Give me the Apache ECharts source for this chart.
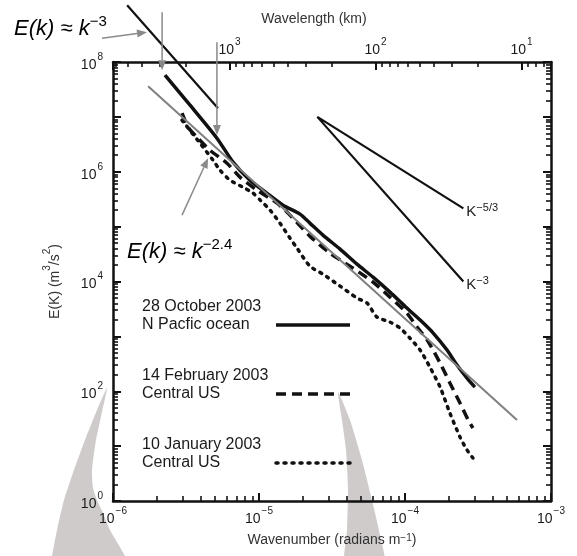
<!DOCTYPE html>
<html>
<head>
<meta charset="utf-8">
<script src="https://cdn.jsdelivr.net/npm/echarts@6/dist/echarts.min.js"></script>
<style>
    html, body { margin: 0; padding: 0; background: #fff; }
    #main { width: 577px; height: 556px; }
</style>
</head>
<body>
<div id="main"></div>
<script>
// wavenumber k (radians/m) and E(k) (m3/s2)
var octK = [2.27e-6, 3.37e-6, 5.15e-6, 6.64e-6, 8.67e-6, 1.13e-5, 1.46e-5, 1.91e-5, 2.23e-5, 2.74e-5, 3.59e-5,
    4.69e-5, 6.04e-5, 7.89e-5, 1.03e-4, 1.27e-4, 1.56e-4, 1.94e-4, 2.27e-4, 2.66e-4, 3.01e-4];
var octE = [5.75e7, 1.63e7, 4.09e6, 1.50e6, 7.03e5, 4.08e5, 2.46e5, 1.69e5, 1.16e5, 7.0e4, 3.89e4,
    2.07e4, 1.20e4, 6410, 3280, 1980, 1150, 563, 300, 174, 119];

var febK = [2.97e-6, 3.27e-6, 3.76e-6, 4.61e-6, 6.04e-6, 7.41e-6, 9.68e-6, 1.33e-5, 1.63e-5, 2.23e-5, 3.06e-5,
    4.41e-5, 6.04e-5, 7.89e-5, 1.03e-4, 1.21e-4, 1.42e-4, 1.74e-4, 2.03e-4, 2.38e-4, 2.71e-4, 2.92e-4];
var febE = [1.17e7, 6.49e6, 4.27e6, 2.47e6, 1.43e6, 7.97e5, 4.62e5, 2.68e5, 1.62e5, 6.71e4, 3.29e4,
    1.75e4, 9750, 5200, 2660, 1480, 857, 326, 141, 61.0, 29.9, 21.4];

var janK = [2.97e-6, 3.94e-6, 4.84e-6, 5.41e-6, 6.33e-6, 7.76e-6, 9.09e-6, 1.02e-5, 1.19e-5, 1.39e-5, 1.63e-5,
    1.82e-5, 2.23e-5, 2.74e-5, 3.59e-5, 4.69e-5, 5.50e-5, 6.43e-5, 7.89e-5, 9.25e-5, 1.08e-4, 1.27e-4,
    1.48e-4, 1.74e-4, 2.03e-4, 2.38e-4, 2.66e-4, 2.92e-4];
var janE = [8.71e6, 3.32e6, 1.63e6, 1.07e6, 7.03e5, 5.24e5, 4.08e5, 3.04e5, 2.0e5, 1.16e5, 6.18e4,
    4.06e4, 1.91e4, 1.36e4, 8240, 4990, 4040, 2250, 1820, 1420, 931, 563,
    276, 119, 40.1, 14.7, 8.49, 6.07];

// E(k) ~ k^-2.4 fit (grey), E(k) ~ k^-3 guide above the plot, and the K^-5/3 / K^-3 reference wedge
var fitK = [1.74e-6, 5.85e-4];
var fitE = [3.63e7, 29.9];
var k3K = [1.25e-6, 5.24e-6];
var k3E = [1.08e9, 1.44e7];
var refK = [2.51e-4, 2.51e-5, 2.51e-4];
var refE = [2.15e5, 1.0e7, 1.0e4];

var names = ['28 October 2003\nN Pacfic ocean', '14 February 2003\nCentral US', '10 January 2003\nCentral US'];
var refLabels = ['K{s|\u22125/3}', 'K{s|\u22123}'];

// annotation arrows [from, to] in data coordinates
var arrowPts = [
    [[8.41e-7, 2.72e8], [1.71e-6, 3.49e8]],
    [[2.17e-6, 8.07e8], [2.17e-6, 7.10e7]],
    [[5.15e-6, 2.30e8], [5.15e-6, 4.65e6]],
    [[2.97e-6, 1.62e5], [4.48e-6, 1.77e6]]
];

var FONT = '"Liberation Sans", Arial, Helvetica, sans-serif';
var INK = '#1a1a1a';

function pairs(xs, ys) {
    return xs.map(function (x, i) { return [x, ys[i]]; });
}

function expOf(v) {
    return Math.log(v) / Math.LN10;
}

function sup(e) {
    return '{b|10}{s|' + (e < 0 ? '\u2212' + (-e) : e) + '}';
}

var supRich = {
    b: {fontSize: 14, fontFamily: FONT, color: INK, lineHeight: 20, verticalAlign: 'bottom'},
    s: {fontSize: 10, fontFamily: FONT, color: INK, lineHeight: 10, verticalAlign: 'top', padding: [0, 0, 0, 1]}
};
var nameRich = {
    b: {fontSize: 14, fontFamily: FONT, color: '#333', lineHeight: 20, verticalAlign: 'bottom'},
    s: {fontSize: 10, fontFamily: FONT, color: '#333', lineHeight: 10, verticalAlign: 'top'}
};

function frameAxis(extra) {
    var base = {
        type: 'log',
        logBase: 10,
        splitLine: {show: false},
        axisLine: {show: true, lineStyle: {color: '#111', width: 2.5}},
        axisTick: {show: true, inside: true, length: 8, lineStyle: {color: '#111', width: 2}},
        minorTick: {show: true, splitNumber: 9, length: 5, lineStyle: {color: '#111', width: 1.6}},
        axisLabel: {show: false}
    };
    for (var key in extra) {
        base[key] = extra[key];
    }
    return base;
}

var myChart = echarts.init(document.getElementById('main'), null, {renderer: 'canvas'});

var option = {
    animation: false,
    backgroundColor: '#fff',
    grid: {left: 113, top: 62, width: 438, height: 439, outerBoundsMode: 'none'},
    legend: {
        data: names,
        orient: 'vertical',
        left: 142,
        top: 298,
        padding: 0,
        itemGap: 15,
        align: 'right',
        itemWidth: 74,
        itemHeight: 14,
        selectedMode: false,
        lineStyle: {width: 3.5},
        itemStyle: {color: 'rgba(0,0,0,0)', borderWidth: 0, opacity: 0},
        formatter: function (name) {
            return name.split('\n').map(function (l) {
                return '{t|' + l + '}';
            }).join('\n') + '\n{t| }';
        },
        textStyle: {
            fontSize: 16, fontFamily: FONT, color: INK, lineHeight: 18,
            rich: {t: {width: 129, align: 'left', fontSize: 16, fontFamily: FONT, color: INK, lineHeight: 18}}
        }
    },
    xAxis: [
        frameAxis({
            min: 1e-6, max: 1e-3, splitNumber: 3, position: 'bottom',
            axisLabel: {
                show: true, margin: 5, rich: supRich,
                formatter: function (v) { return sup(Math.round(expOf(v))); }
            },
            name: 'Wavenumber (radians m{s|\u22121})',
            nameLocation: 'middle',
            nameGap: 32,
            nameTextStyle: {fontSize: 14, fontFamily: FONT, color: '#333', rich: nameRich}
        }),
        frameAxis({
            // wavelength (km) = 2*pi / k / 1000
            min: 2 * Math.PI / 1e-3 / 1000, max: 2 * Math.PI / 1e-6 / 1000,
            inverse: true, splitNumber: 3, position: 'top',
            axisLabel: {
                show: true, margin: 5, rich: supRich, showMinLabel: false, showMaxLabel: false,
                formatter: function (v) {
                    var e = expOf(v);
                    return Math.abs(e - Math.round(e)) < 1e-6 ? sup(Math.round(e)) : '';
                }
            },
            name: 'Wavelength (km)',
            nameLocation: 'middle',
            nameGap: 36,
            nameTextStyle: {fontSize: 14, fontFamily: FONT, color: '#333', padding: [0, 36, 0, 0]}
        })
    ],
    yAxis: [
        frameAxis({
            min: 1, max: 1e8, splitNumber: 8, position: 'left',
            axisLabel: {
                show: true, margin: 10, rich: supRich,
                formatter: function (v) {
                    var e = Math.round(expOf(v));
                    return e % 2 === 0 ? sup(e) : '';
                }
            },
            name: '{b|E(K) (m}{s|3}{b|/s}{s|2}{b|)}',
            nameLocation: 'middle',
            nameGap: 51,
            nameTextStyle: {rich: nameRich}
        }),
        frameAxis({min: 1, max: 1e8, splitNumber: 8, position: 'right'})
    ],
    series: [
        {
            name: names[0], type: 'line', data: pairs(octK, octE), symbol: 'none', smooth: 0.25,
            itemStyle: {color: '#111'},
            lineStyle: {color: '#111', width: 3.5, type: 'solid'}, z: 4
        },
        {
            name: names[1], type: 'line', data: pairs(febK, febE), symbol: 'none', smooth: 0.25,
            itemStyle: {color: '#111'},
            lineStyle: {color: '#111', width: 3.5, type: [10, 6]}, z: 4
        },
        {
            name: names[2], type: 'line', data: pairs(janK, janE), symbol: 'none', smooth: 0.25,
            itemStyle: {color: '#111'},
            lineStyle: {color: '#111', width: 3.5, type: [2, 6], cap: 'round'}, z: 4
        },
        {
            name: 'fit', type: 'line', data: pairs(fitK, fitE), symbol: 'none',
            lineStyle: {color: '#808080', width: 2}, z: 5
        },
        {
            name: 'k3', type: 'line', data: pairs(k3K, k3E), symbol: 'none', clip: false,
            lineStyle: {color: '#111', width: 2.2}, z: 4
        },
        {
            name: 'ref', type: 'line', data: pairs(refK, refE), symbol: 'none',
            lineStyle: {color: '#111', width: 2.2}, z: 4
        }
    ]
};

myChart.setOption(option);

function px(p) {
    return myChart.convertToPixel({xAxisIndex: 0, yAxisIndex: 0}, p);
}

function arrow(a, b) {
    var p0 = px(a), p1 = px(b);
    var dx = p1[0] - p0[0], dy = p1[1] - p0[1];
    var len = Math.sqrt(dx * dx + dy * dy);
    var ux = dx / len, uy = dy / len, hl = 10, hw = 4;
    var bx = p1[0] - ux * hl, by = p1[1] - uy * hl;
    return [
        {type: 'line', z: 6, shape: {x1: p0[0], y1: p0[1], x2: bx, y2: by},
            style: {stroke: '#8a8a8a', lineWidth: 1.5}},
        {type: 'polygon', z: 6, shape: {points: [p1, [bx - uy * hw, by + ux * hw], [bx + uy * hw, by - ux * hw]]},
            style: {fill: '#8a8a8a'}}
    ];
}

var annRich = {
    i: {fontSize: 22, fontFamily: FONT, fontStyle: 'italic', color: INK, lineHeight: 26, verticalAlign: 'bottom'},
    n: {fontSize: 22, fontFamily: FONT, color: INK, lineHeight: 26, verticalAlign: 'bottom'},
    s: {fontSize: 15, fontFamily: FONT, color: INK, lineHeight: 14, verticalAlign: 'top'}
};
var kRich = {
    s: {fontSize: 11, fontFamily: FONT, color: INK, lineHeight: 11, verticalAlign: 'top'}
};

// faint grey crescent printed behind the figure (decoration only)
var crescentLeft = [[107, 388], [97, 410], [85, 440], [74, 470], [64, 500], [57, 530], [52, 556], [50, 570],
    [130, 570], [125, 556], [110, 530], [103, 513], [97, 500], [93, 488], [92, 470], [96, 440], [102, 412]];
var crescentRight = [[338, 392], [350, 420], [362, 460], [372, 500], [380, 535], [385, 570],
    [345, 570], [347, 530], [348, 490], [346, 450], [342, 420]];

var graphics = [
    {type: 'polygon', z: -10, silent: true, shape: {points: crescentLeft, smooth: 0.2}, style: {fill: '#cfcbcb'}},
    {type: 'polygon', z: -10, silent: true, shape: {points: crescentRight, smooth: 0.2}, style: {fill: '#cfcbcb'}},
    {type: 'text', z: 6, x: 14, y: 27,
        style: {text: '{i|E(k)}{n| \u2248 }{i|k}{s|\u22123}', rich: annRich, verticalAlign: 'middle'}},
    {type: 'text', z: 6, x: 127, y: 250,
        style: {text: '{i|E(k)}{n| \u2248 }{i|k}{s|\u22122.4}', rich: annRich, verticalAlign: 'middle'}}
];

[0, 2].forEach(function (idx, j) {
    var end = px([refK[idx], refE[idx]]);
    graphics.push({
        type: 'text', z: 6, x: end[0] + 3, y: end[1] + 3,
        style: {text: refLabels[j], rich: kRich, fontSize: 15, fontFamily: FONT, fill: INK,
            verticalAlign: 'middle', lineHeight: 18}
    });
});

arrowPts.forEach(function (a) {
    graphics = graphics.concat(arrow(a[0], a[1]));
});

myChart.setOption({graphic: {elements: graphics}});
window.onresize = myChart.resize;
</script>
</body>
</html>
